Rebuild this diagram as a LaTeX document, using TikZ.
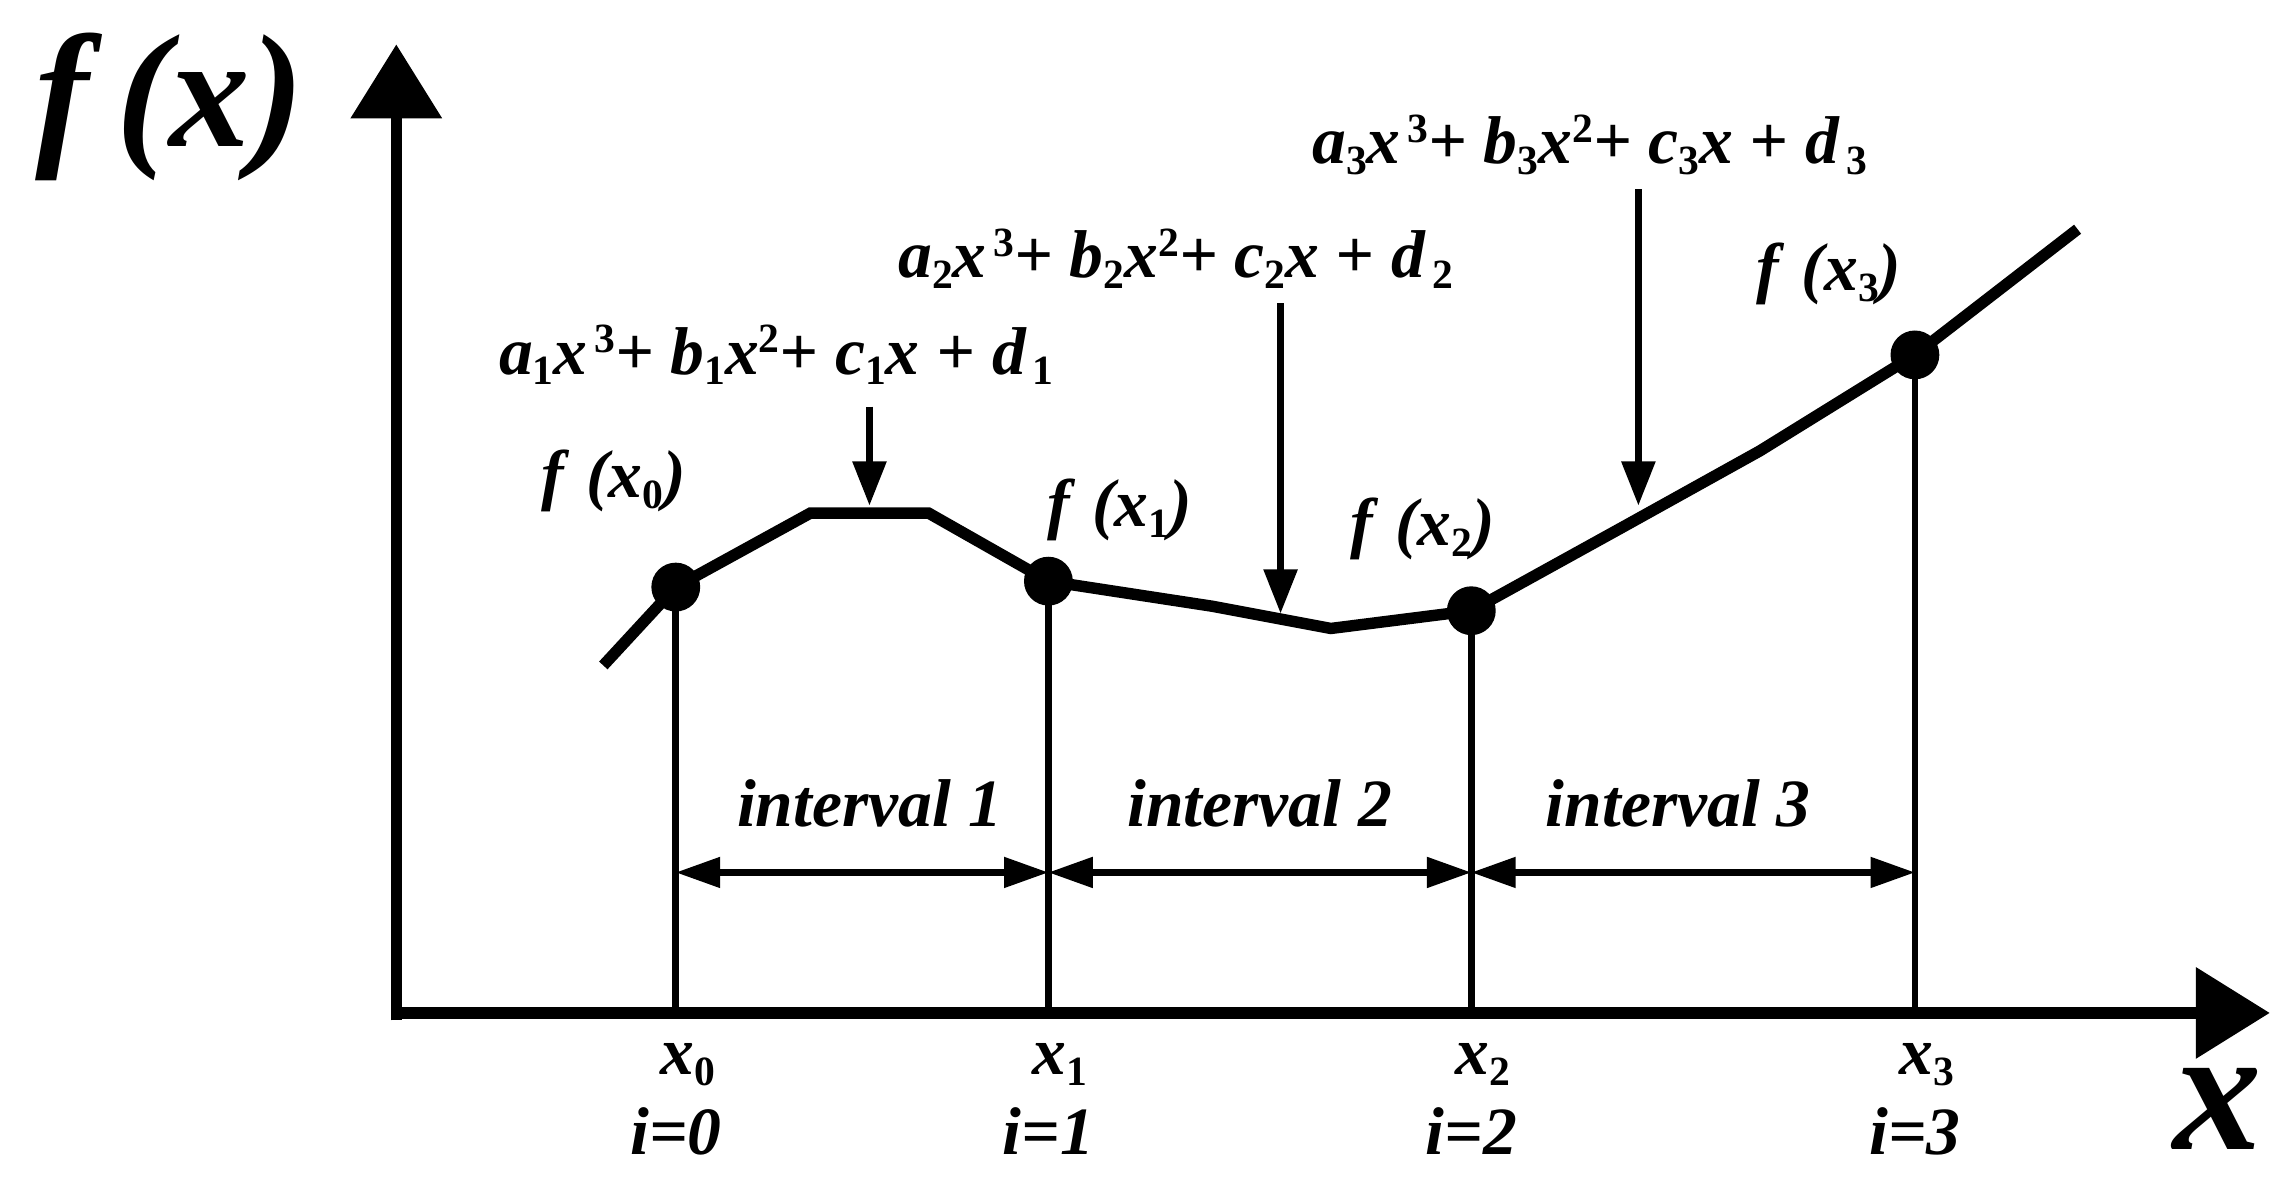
\documentclass[tikz,border=0pt]{standalone}
\usepackage{fontspec}
\setmainfont{Liberation Serif}
\usetikzlibrary{arrows.meta}
\newcommand{\sbb}[1]{\raisebox{-0.35ex}{\footnotesize\upshape #1}}
\newcommand{\spp}[1]{\raisebox{0.7ex}{\footnotesize\upshape #1}}
\begin{document}
\begin{tikzpicture}[x=0.01cm,y=-0.01cm,
  lab/.style={font=\fontsize{13}{15}\selectfont\bfseries\itshape, inner sep=0pt},
  axis/.style={line width=2.2pt,-{Triangle[length=0.5cm,width=0.6cm]}},
  curve/.style={line width=2.2pt},
  vl/.style={line width=1.3pt},
  iv/.style={line width=1.2pt,{Triangle[length=0.3cm,width=0.2cm]}-{Triangle[length=0.3cm,width=0.2cm]}},
  down/.style={line width=1.4pt,-{Triangle[length=0.3cm,width=0.22cm]}},
  dot/.style={circle,fill,inner sep=0pt,minimum size=0.33cm}]
\useasboundingbox (0,0) rectangle (1550,799);
\coordinate (Ytop) at (268,30);
\coordinate (Xend) at (1535,685);
\draw[axis] (268,690) -- (Ytop);
\draw[axis] (266,685) -- (Xend);
\node[dot] (p0) at (457,397) {};
\node[dot] (p1) at (709,393) {};
\node[dot] (p2) at (995,413) {};
\node[dot] (p3) at (1295,240) {};
\coordinate (b0) at (457,685);\coordinate (b1) at (709,685);
\coordinate (b2) at (995,685);\coordinate (b3) at (1295,685);
\draw[curve] (408,450) -- (p0.center) -- (548,347) -- (628,347) -- (p1.center) -- (820,410) -- (900,425) -- (p2.center) -- (1100,355) -- (1190,305) -- (p3.center) -- (1405,155);
\foreach \i in {0,1,2,3} \draw[vl] (p\i.center) -- (b\i);
\coordinate (a0) at (457,590);\coordinate (a1) at (709,590);
\coordinate (a2) at (995,590);\coordinate (a3) at (1295,590);
\draw[iv] (a0) -- (a1); \draw[iv] (a1) -- (a2); \draw[iv] (a2) -- (a3);
\node[lab] (i1) at (588,543) {interval 1};
\node[lab] (i2) at (852,543) {interval 2};
\node[lab] (i3) at (1135,543) {interval 3};
\foreach \i/\x in {0/457,1/709,2/995,3/1295}{
  \node[lab] (xl\i) at (\x+8,720) {x\sbb{\i}};
  \node[lab] (il\i) at (\x,765) {i=\i};}
\node[font=\fontsize{31}{34}\selectfont\bfseries\itshape,inner sep=0pt] (fx) at (115,72) {f\,(x)};
\node[font=\fontsize{34}{36}\selectfont\bfseries\itshape,inner sep=0pt] (xx) at (1500,750) {x};
\node[lab] (f0) at (415,325) {f\,\,(x\sbb{0})};
\node[lab] (f1) at (757,345) {f\,\,(x\sbb{1})};
\node[lab] (f2) at (962,358) {f\,\,(x\sbb{2})};
\node[lab] (f3) at (1237,185) {f\,\,(x\sbb{3})};
\node[lab] (e1) at (525,240) {a\sbb{1}x\spp{\,3}+ b\sbb{1}x\spp{2}+ c\sbb{1}x + d\sbb{\,1}};
\node[lab] (e2) at (795,175) {a\sbb{2}x\spp{\,3}+ b\sbb{2}x\spp{2}+ c\sbb{2}x + d\sbb{\,2}};
\node[lab] (e3) at (1075,98) {a\sbb{3}x\spp{\,3}+ b\sbb{3}x\spp{2}+ c\sbb{3}x + d\sbb{\,3}};
\coordinate (s1) at (588,275);\coordinate (t1) at (588,342);
\coordinate (s2) at (866,205);\coordinate (t2) at (866,415);
\coordinate (s3) at (1108,128);\coordinate (t3) at (1108,342);
\draw[down] (s1) -- (t1); \draw[down] (s2) -- (t2); \draw[down] (s3) -- (t3);
\end{tikzpicture}
\end{document}
